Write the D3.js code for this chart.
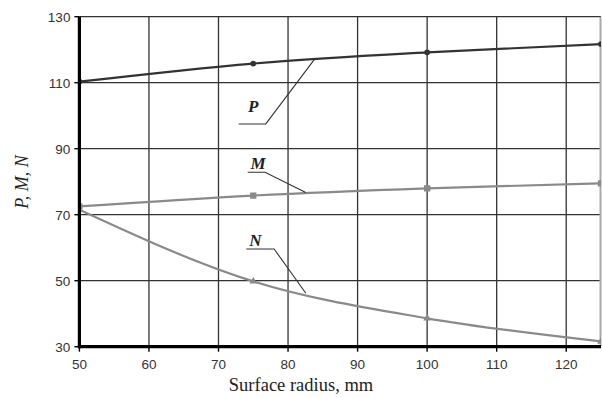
<!DOCTYPE html>
<html><head><meta charset="utf-8">
<script src="https://cdn.jsdelivr.net/npm/d3@7"></script>
<style>body{margin:0;background:#fff}svg{display:block}</style>
</head><body>
<script>
const radius = [50, 75, 100, 125];
const pValues = [110.3, 115.8, 119.2, 121.7];
const mValues = [72.5, 75.8, 78.0, 79.5];
const nValues = [71.5, 49.8, 38.6, 31.6];
const xTicks = [50, 60, 70, 80, 90, 100, 110, 120];
const yTicks = [30, 50, 70, 90, 110, 130];
// annotation labels: [name, textX, textBaselineY, underlineY, underlineX1, underlineX2, pointerX, pointerY] in data units
const labels = [
  ["P", 75.0, 101.1, 97.5, 72.9, 76.8, 83.85, 117.2],
  ["M", 75.7, 83.9, 82.85, 74.2, 76.7, 82.55, 76.7],
  ["N", 75.3, 60.5, 59.6, 74.0, 78.0, 82.56, 46.2]
];

const W = 602, H = 398;
const m = {l: 79.4, r: 1, t: 16.7, b: 51.3};
const svg = d3.select("body").append("svg").attr("width", W).attr("height", H);
const x = d3.scaleLinear().domain([50, 125]).range([m.l, W - m.r]);
const y = d3.scaleLinear().domain([30, 130]).range([H - m.b, m.t]);

svg.append("defs").append("clipPath").attr("id", "clip")
  .append("rect").attr("x", m.l).attr("y", m.t).attr("width", W - m.r - m.l).attr("height", H - m.b - m.t);

// grid
const g = svg.append("g");
g.selectAll(".vg").data(xTicks.slice(1)).join("line")
  .attr("x1", d => x(d)).attr("x2", d => x(d)).attr("y1", y(130)).attr("y2", y(30))
  .attr("stroke", "#333").attr("stroke-width", 1.3);
g.selectAll(".hg").data(yTicks.slice(1)).join("line")
  .attr("x1", x(50)).attr("x2", x(125)).attr("y1", d => y(d)).attr("y2", d => y(d))
  .attr("stroke", "#333").attr("stroke-width", 1.3);
// right border
g.append("line").attr("x1", x(125) - 0.5).attr("x2", x(125) - 0.5).attr("y1", y(130)).attr("y2", y(30))
  .attr("stroke", "#aaa").attr("stroke-width", 2);

const line = d3.line().x((d, i) => x(radius[i])).y(d => y(d)).curve(d3.curveMonotoneX);
const series = [
  {v: pValues, c: "#333", w: 2.2, mk: "circle"},
  {v: mValues, c: "#8a8a8a", w: 2.2, mk: "square"},
  {v: nValues, c: "#8a8a8a", w: 2.2, mk: "tri"}
];
const cg = svg.append("g").attr("clip-path", "url(#clip)");
series.forEach(s => {
  cg.append("path").attr("d", line(s.v)).attr("fill", "none").attr("stroke", s.c).attr("stroke-width", s.w);
  const sym = s.mk === "circle" ? d3.symbolCircle : s.mk === "square" ? d3.symbolSquare : d3.symbolTriangle;
  cg.selectAll(null).data(s.v).join("path")
    .attr("transform", (d, i) => `translate(${x(radius[i])},${y(d)})`)
    .attr("d", d3.symbol().type(sym).size(s.mk === "square" ? 40 : 26))
    .attr("fill", s.c);
});

// annotations
labels.forEach(([name, lx, ly, uyv, ux1, ux2, px, py]) => {
  svg.append("text").attr("x", x(lx)).attr("y", y(ly)).attr("text-anchor", "middle")
    .attr("font-family", "Liberation Serif, Times New Roman, serif").attr("font-style", "italic")
    .attr("font-weight", "bold")
    .attr("font-size", 17).attr("fill", "#222").text(name);
  const uy = y(uyv);
  svg.append("polyline")
    .attr("points", `${x(ux1)},${uy} ${x(ux2)},${uy} ${x(px)},${y(py)}`)
    .attr("fill", "none").attr("stroke", "#333").attr("stroke-width", 1.1);
});

// axes
const ax = svg.append("g");
ax.append("line").attr("x1", x(50)).attr("x2", x(50)).attr("y1", y(130)).attr("y2", y(30) + 1.5)
  .attr("stroke", "#000").attr("stroke-width", 3.2);
ax.append("line").attr("x1", x(50) - 1.5).attr("x2", x(125)).attr("y1", y(30)).attr("y2", y(30))
  .attr("stroke", "#000").attr("stroke-width", 3.2);
ax.selectAll(".yt").data(yTicks).join("line")
  .attr("x1", x(50) - 5).attr("x2", x(50)).attr("y1", d => y(d)).attr("y2", d => y(d))
  .attr("stroke", "#000").attr("stroke-width", 1.4);
ax.selectAll(".xt").data(xTicks).join("line")
  .attr("x1", d => x(d)).attr("x2", d => x(d)).attr("y1", y(30)).attr("y2", y(30) + 5)
  .attr("stroke", "#000").attr("stroke-width", 1.4);
ax.selectAll(".yl").data(yTicks).join("text")
  .attr("x", x(50) - 9).attr("y", d => y(d) + 5).attr("text-anchor", "end")
  .attr("font-family", "Liberation Sans, Arial, sans-serif").attr("font-size", 13.5).attr("fill", "#333")
  .text(d => d);
ax.selectAll(".xl").data(xTicks).join("text")
  .attr("x", d => x(d)).attr("y", y(30) + 22).attr("text-anchor", "middle")
  .attr("font-family", "Liberation Sans, Arial, sans-serif").attr("font-size", 13.5).attr("fill", "#333")
  .text(d => d);

svg.append("text").attr("x", 301).attr("y", 391).attr("text-anchor", "middle")
  .attr("font-family", "Liberation Serif, Times New Roman, serif").attr("font-size", 18.5).attr("fill", "#222")
  .text("Surface radius, mm");
svg.append("text").attr("transform", "translate(28,182) rotate(-90)").attr("text-anchor", "middle")
  .attr("font-family", "Liberation Serif, Times New Roman, serif").attr("font-style", "italic")
  .attr("font-size", 18).attr("fill", "#222").text("P, M, N");
</script>
</body></html>
